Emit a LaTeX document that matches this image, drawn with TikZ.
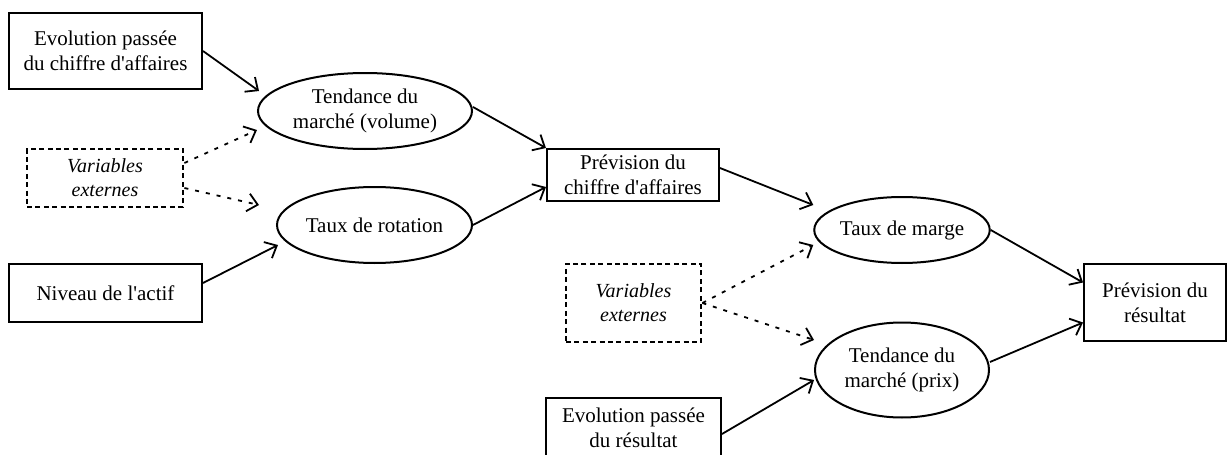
\documentclass[tikz,border=0pt]{standalone}
\usepackage{fontspec}
\setmainfont{Liberation Serif}[Ligatures=TeXOff]
\usetikzlibrary{arrows.meta,shapes.geometric}
\tikzstyle{caja}=[rectangle,draw=black,line width=1pt,inner sep=0pt,align=center]
\tikzstyle{externa}=[rectangle,draw=black,line width=1.4pt,dash pattern=on 2.5pt off 1.7pt,inner sep=0pt,align=center,font=\itshape]
\tikzstyle{factor}=[ellipse,draw=black,line width=1pt,inner sep=0pt,align=center]
\tikzstyle{flecha}=[line width=0.9pt,-{Straight Barb[length=5pt,width=9pt,line width=0.9pt]}]
\tikzstyle{punteada}=[line width=0.9pt,dash pattern=on 2pt off 3.5pt,-{Straight Barb[length=5pt,width=9pt,line width=0.9pt]}]

\begin{document}
\begin{tikzpicture}[x=0.5pt,y=-0.5pt,font=\fontsize{10.5pt}{12.5pt}\selectfont]
		\useasboundingbox (0,0) rectangle (1228,455);
		\node (evoca) at (105.5,51) [caja,minimum width=96.5pt,minimum height=38pt] {Evolution passée\\du chiffre d'affaires};
		\node (vol) at (365,111) [factor,minimum width=107pt,minimum height=38pt] {Tendance du\\marché (volume)};
		\node (ext1) at (105,178) [externa,minimum width=78pt,minimum height=29pt] {Variables\\externes};
		\node (rot) at (374.5,225) [factor,minimum width=97.5pt,minimum height=38pt] {Taux de rotation};
		\node (actif) at (105.5,293) [caja,minimum width=96.5pt,minimum height=29pt] {Niveau de l'actif};
		\node (prevca) at (633,175) [caja,minimum width=86pt,minimum height=26pt] {Prévision du\\chiffre d'affaires};
		\node (ext2) at (633.5,303) [externa,minimum width=67.5pt,minimum height=39pt] {Variables\\externes};
		\node (marge) at (902,230) [factor,minimum width=86.5pt,minimum height=33pt] {Taux de marge};
		\node (prix) at (902,370) [factor,minimum width=87pt,minimum height=47.5pt] {Tendance du\\marché (prix)};
		\node (prevres) at (1155,302.5) [caja,minimum width=71pt,minimum height=38.5pt] {Prévision du\\résultat};
		\node (evores) at (633.5,428) [caja,minimum width=87.5pt,minimum height=30pt] {Evolution passée\\du résultat};

		\draw [flecha] (evoca.east)--([xshift=1pt,yshift=10pt]vol.west);
		\draw [punteada] ([yshift=7.5pt]ext1.east)--([yshift=-9.5pt]vol.west);
		\draw [punteada] ([yshift=-5pt]ext1.east)--([xshift=-8.5pt,yshift=10pt]rot.west);
		\draw [flecha] ([yshift=5pt]actif.east)--([xshift=1pt,yshift=-10pt]rot.west);
		\draw [flecha] ([yshift=2pt]vol.east)--(prevca.north west);
		\draw [flecha] (rot.east)--([yshift=-6pt]prevca.west);
		\draw [flecha] ([yshift=3.5pt]prevca.east)--([yshift=12.5pt]marge.west);
		\draw [punteada] (ext2.east)--([yshift=-7.5pt]marge.west);
		\draw [punteada] (ext2.east)--([yshift=15pt]prix.west);
		\draw [flecha] ([yshift=-3pt]evores.east)--([yshift=-5pt]prix.west);
		\draw [flecha] (marge.east)--([yshift=10pt]prevres.west);
		\draw [flecha] ([yshift=4pt]prix.east)--([yshift=-10pt]prevres.west);
	\end{tikzpicture}
\end{document}
